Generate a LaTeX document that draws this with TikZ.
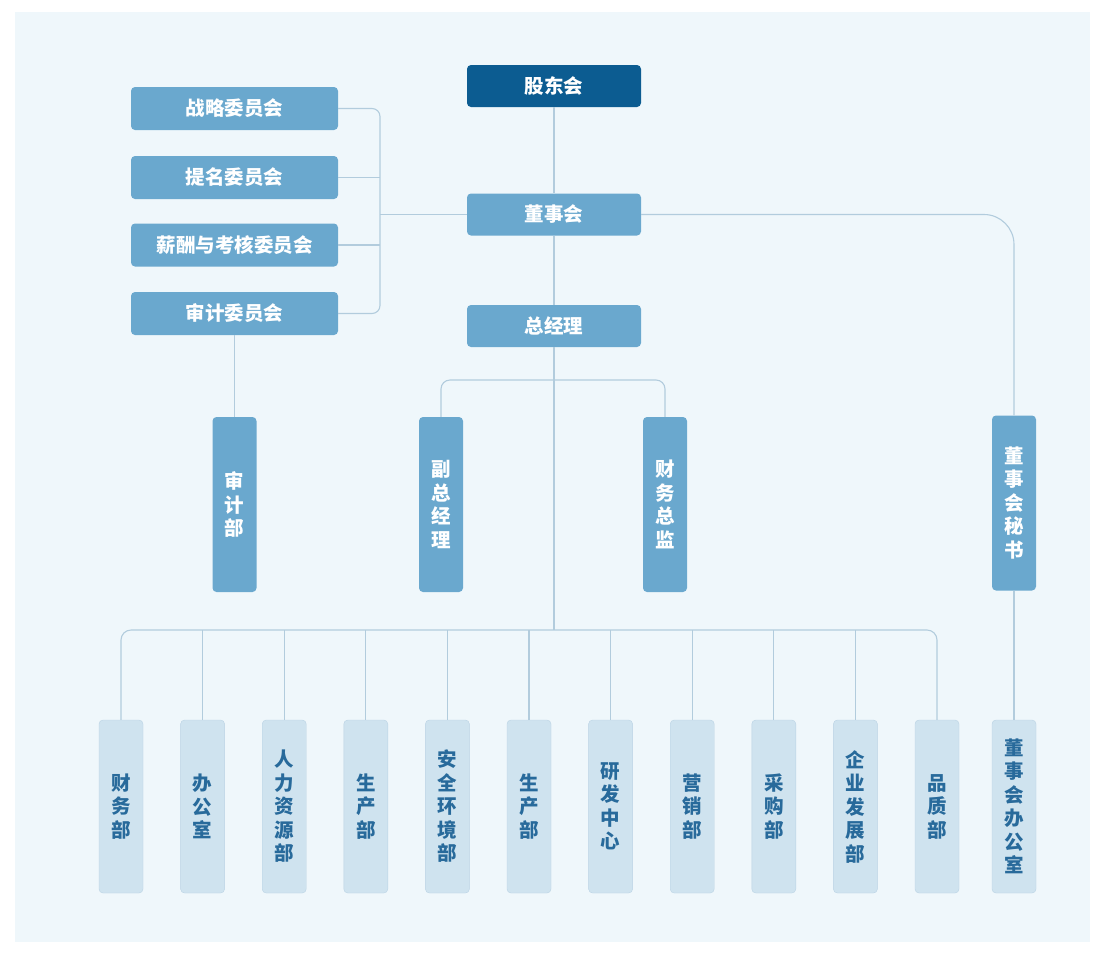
\documentclass[tikz,border=0pt]{standalone}
\usepackage{fontspec}
\setmainfont{Noto Sans CJK SC}
\usepackage{tikz}
\usetikzlibrary{calc}
\definecolor{panel}{RGB}{239,247,251}
\definecolor{darkbox}{RGB}{12,92,145}
\definecolor{midbox}{RGB}{106,168,206}
\definecolor{lightbox}{RGB}{207,227,239}
\definecolor{lightedge}{RGB}{186,211,228}
\definecolor{deptext}{RGB}{40,106,155}
\definecolor{wire}{RGB}{178,204,221}

\begin{document}
\begin{tikzpicture}[x=1pt,y=-1pt,
    every node/.style={font=\fontsize{19.5}{23.5}\selectfont\bfseries, align=center, inner sep=0pt},
    headbox/.style={fill=darkbox, text=white, rounded corners=4pt, minimum width=174pt, minimum height=42pt},
    topbox/.style={fill=midbox, text=white, rounded corners=4pt, minimum width=174pt, minimum height=42pt},
    combox/.style={fill=midbox, text=white, rounded corners=4pt, minimum width=207pt, minimum height=43pt},
    tallbox/.style={fill=midbox, text=white, rounded corners=4pt, minimum width=44pt, minimum height=175pt},
    deptbox/.style={fill=lightbox, draw=lightedge, text=deptext, rounded corners=4pt, minimum width=44pt, minimum height=173pt},
    wire/.style={draw=wire, line width=1.1pt}]
                      \useasboundingbox (0,0) rectangle (1103,954);
                      \fill[panel] (15,12) rectangle (1090,942);
                      % top chain
                      \node[headbox] (gdh) at (554,86) {股东会};
                      \node[topbox] (dsh) at (554,214.5) {董事会};
                      \node[topbox] (zjl) at (554,326) {总经理};
                      % committees
                      \node[combox] (zlw) at (234.5,108.5) {战略委员会};
                      \node[combox] (tmw) at (234.5,177.5) {提名委员会};
                      \node[combox] (xcw) at (234.5,245) {薪酬与考核委员会};
                      \node[combox] (sjw) at (234.5,313.5) {审计委员会};
                      \coordinate (brk) at (380,214.5);
                      % vertical boxes
                      \node[tallbox] (sjb) at (234.5,504.5) {审\\计\\部};
                      \node[tallbox] (fzj) at (441,504.5) {副\\总\\经\\理};
                      \node[tallbox] (cwz) at (665,504.5) {财\\务\\总\\监};
                      \node[tallbox] (dms) at (1014,503) {董\\事\\会\\秘\\书};
                      \node[deptbox] (dbg) at (1014,806.5) {董\\事\\会\\办\\公\\室};
                      % departments
                      \foreach \i/\t in {0/财\\务\\部, 1/办\\公\\室, 2/人\\力\\资\\源\\部, 3/生\\产\\部,
                          4/安\\全\\环\\境\\部, 5/生\\产\\部, 6/研\\发\\中\\心, 7/营\\销\\部,
                          8/采\\购\\部, 9/企\\业\\发\\展\\部, 10/品\\质\\部}
                      \node[deptbox] (d\i) at ({121+81.6*\i},806.5) {\t};
                      % connectors
                      \draw[wire] (gdh.south) -- (dsh.north);
                      \draw[wire] (dsh.south) -- (zjl.north);
                      \draw[wire] (zjl.south) -- (zjl.south |- 0,630);
                      \draw[wire, rounded corners=8pt] (zlw.east) -| (brk |- sjw.east) -- (sjw.east);
                      \draw[wire] (tmw.east) -- (tmw.east -| brk);
                      \draw[wire] (xcw.east) -- (xcw.east -| brk);
                      \draw[wire] (brk) -- (dsh.west);
                      \draw[wire] (sjw.south) -- (sjb.north);
                      \draw[wire, rounded corners=9pt] (fzj.north) |- (cwz.north |- 0,380) -- (cwz.north);
                      \draw[wire, rounded corners=30pt] (dsh.east) -| (dms.north);
                      \draw[wire] (dms.south) -- (dbg.north);
                      \draw[wire, rounded corners=10pt] (d0.north) |- (d10.north |- 0,630) -- (d10.north);
                      \foreach \i in {1,...,9}
                      \draw[wire] (d\i.north) -- (d\i.north |- 0,630);
                  \end{tikzpicture}
\end{document}
